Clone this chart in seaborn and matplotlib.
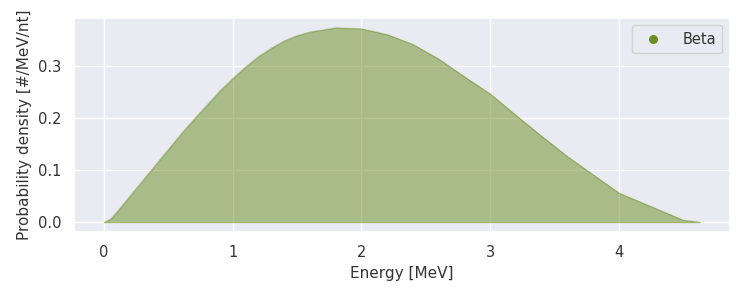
import matplotlib
matplotlib.use("Agg")
import matplotlib.pyplot as plt
import seaborn as sns
import pandas as pd
from matplotlib.lines import Line2D

energy = [0, 0.05, 0.1, 0.2, 0.3, 0.4, 0.5, 0.6, 0.7, 0.8, 0.9, 1.0, 1.1, 1.2, 1.3,
          1.4, 1.5, 1.6, 1.7, 1.8, 2.0, 2.2, 2.4, 2.6, 2.8, 3.0, 3.2, 3.4, 3.6,
          4.0, 4.5, 4.63]
density = [0, 0.006, 0.02, 0.05, 0.08, 0.11, 0.14, 0.17, 0.198, 0.225, 0.252, 0.276,
           0.298, 0.318, 0.334, 0.348, 0.358, 0.365, 0.369, 0.373, 0.371, 0.360,
           0.341, 0.313, 0.279, 0.246, 0.205, 0.165, 0.126, 0.056, 0.004, 0.0]
series_label = "Beta"

sns.set_theme(style="darkgrid")
plt.rcParams['font.family'] = ['DejaVu Sans']

df = pd.DataFrame({"Energy": energy, "Density": density})
fig, ax = plt.subplots(figsize=(7.5, 3), dpi=100)
color = "olivedrab"
sns.lineplot(data=df, x="Energy", y="Density", ax=ax, color=color, alpha=0.25, linewidth=0.8)
ax.fill_between(df["Energy"], df["Density"], color=color, alpha=0.5, linewidth=0.8)

txt = "#333333"
ax.set_xlabel("Energy [MeV]", fontsize=11, color=txt)
ax.set_ylabel("Probability density [#/MeV/nt]", fontsize=11, color=txt)
ax.tick_params(labelsize=10.5, labelcolor=txt)
ax.set_yticks([0.0, 0.1, 0.2, 0.3])
ax.set_xticks([0, 1, 2, 3, 4])

handle = Line2D([], [], color=color, marker="o", linestyle="", markersize=5.5)
leg = ax.legend([handle], [series_label], loc="upper right", fontsize=10.5,
                handletextpad=1.0, borderpad=0.45)
for t in leg.get_texts():
    t.set_color(txt)

fig.subplots_adjust(left=0.099, right=0.973, top=0.94, bottom=0.227)
fig.savefig("out.png", dpi=100)
